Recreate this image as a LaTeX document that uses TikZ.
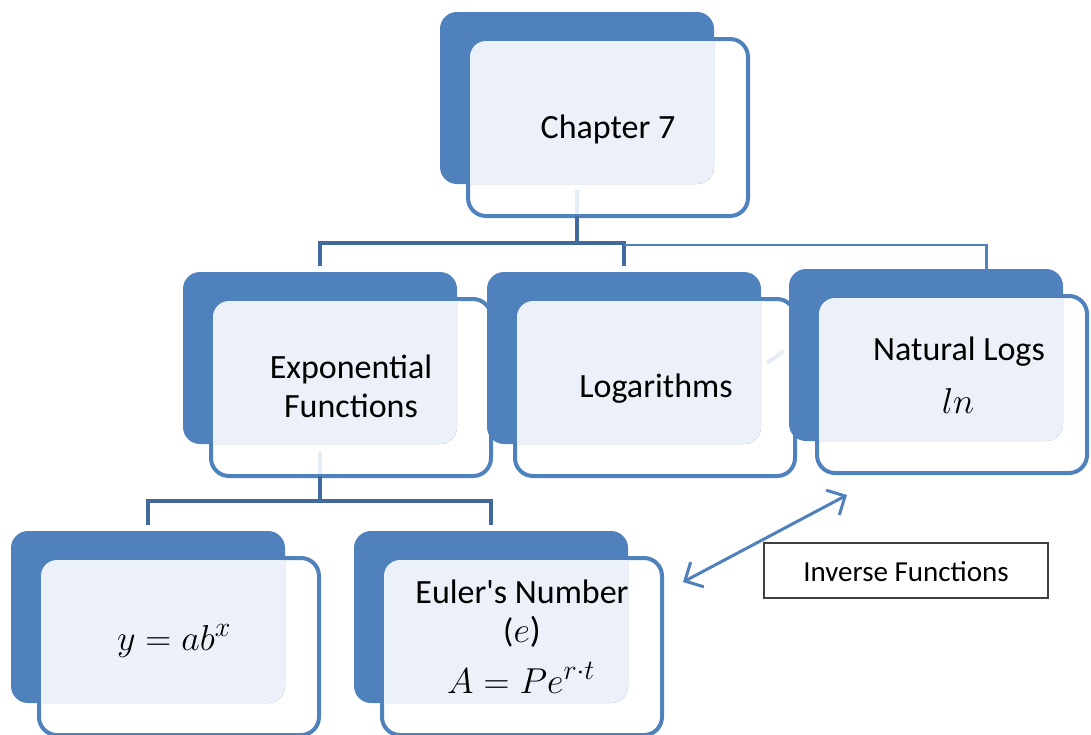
\RequirePackage{fix-cm}
\documentclass[tikz,border=0pt]{standalone}
\usepackage{fontspec}
\setmainfont{Carlito}
\DeclareMathSizes{36}{36}{28}{21}
\usetikzlibrary{arrows.meta,calc}
\definecolor{sblue}{HTML}{4F81BD}
\definecolor{slight}{HTML}{ECF0F8}
\definecolor{sconn}{HTML}{42699C}
\definecolor{sfaint}{HTML}{E6ECF5}
\tikzset{
  frameshape/.style={draw=sblue, line width=4pt, fill=white, rounded corners=18pt,
    minimum height=177pt, inner sep=0pt, outer sep=0pt},
  darkshape/.style={fill=sblue, rounded corners=17pt, minimum width=274pt,
    minimum height=172pt, inner sep=0pt, outer sep=0pt},
  boxtext/.style={font=\fontsize{34}{38}\selectfont, inner sep=0pt, anchor=base},
  mathtext/.style={font=\fontsize{36}{40}\selectfont, inner sep=0pt, anchor=base},
  conn/.style={draw=sconn, line width=4.5pt},
  thinconn/.style={draw=sblue, line width=2.5pt},
  faint/.style={draw=sfaint, line width=4.5pt},
  dblarrow/.style={draw=sblue, line width=3pt,
    {Straight Barb[length=14pt,width=28pt]}-{Straight Barb[length=14pt,width=28pt]}},
  labelbox/.style={draw=black!75, line width=1.2pt, fill=white, minimum width=284pt,
    minimum height=55pt, inner sep=0pt}
}
% [#1 frame width], #2 name, #3 x of dark box top-left, #4 y of dark box top-left
\newcommand\smartbox[4][280]{%
  \node[frameshape, minimum width=#1pt] (#2F) at (#3+28+#1/2,#4+115.5) {};
  \node[darkshape] (#2D) at (#3+137,#4+86) {};
  \begin{scope}
    \clip[rounded corners=16pt] (#3+30,#4+29) rectangle (#3+26+#1,#4+202);
    \fill[slight, rounded corners=17pt] (#3,#4) rectangle (#3+274,#4+172);
  \end{scope}
}
\begin{document}
\begin{tikzpicture}[x=1pt,y=-1pt]
\useasboundingbox (0,0) rectangle (1091,734);
\fill[white] (0,0) rectangle (1091,734);

% boxes (left to right, top to bottom)
\smartbox{ch}{440}{12}
\smartbox{exp}{183}{272}
\smartbox{log}{487}{272}
\coordinate (fa) at (767,363);
\coordinate (fb) at (784,351);
\draw[faint, line width=4pt] (fa) -- (fb);
\smartbox[270]{nat}{789}{269}
\smartbox{ya}{11}{531}
\smartbox{eu}{354}{531}

% connectors
\coordinate (j1) at (577,243);
\coordinate (j2) at (624,245);
\coordinate (j3) at (320,501);
\draw[faint] ($(chD.south)+(0,6)$) -- ($(chD.south |- chF.south)+(0,-2)$);
\draw[conn] (chD.south |- chF.south) -- (j1);
\draw[conn] ($(expD.north)+(0,-6)$) |- (j1) -| ($(logD.north)+(0,-6)$);
\draw[thinconn] (j2) -| ($(natD.north west)!0.72!(natD.north east)$);
\draw[faint] ($(expD.south)+(0,8)$) -- ($(expD.south |- expF.south)+(0,-2)$);
\draw[conn] (expD.south |- expF.south) -- (j3);
\draw[conn] ($(yaD.north)+(0,-6)$) |- (j3) -| ($(euD.north)+(0,-6)$);

% texts
\node[boxtext] (tch) at (608,138) {Chapter 7};
\node[boxtext] (texp1) at (351,378) {Exponential};
\node[boxtext] (texp2) at (351,417) {Functions};
\node[boxtext] (tlog) at (656,397) {Logarithms};
\node[boxtext] (tnat1) at (959,360) {Natural Logs};
\node[mathtext] (tnat2) at (958,413) {$ln$};
\node[mathtext] (tya) at (174,650) {$y = ab^{x}$};
\node[boxtext] (teu1) at (522,603) {Euler\textquotesingle s Number};
\node[boxtext] (teu2) at (522,642) {(\fontsize{36}{40}\selectfont$e$)};
\node[mathtext] (teu3) at (521,693) {$A = Pe^{r\cdot t}$};

% inverse functions
\coordinate (a1) at (683,582);
\coordinate (a2) at (847,495);
\draw[dblarrow] (a1) -- (a2);
\node[labelbox] (inv) at (906,570.5) {};
\node[boxtext, font=\fontsize{29}{33}\selectfont] (tinv) at (906,581) {Inverse Functions};
\end{tikzpicture}
\end{document}
